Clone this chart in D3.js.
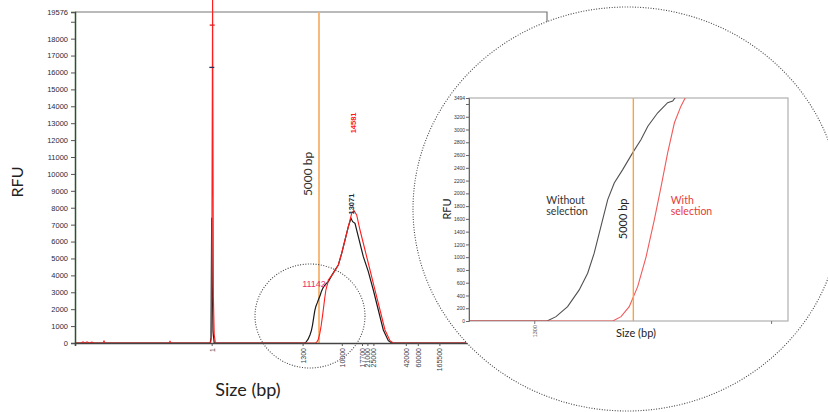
<!DOCTYPE html>
<html>
<head>
<meta charset="utf-8">
<script src="https://cdn.jsdelivr.net/npm/d3@7"></script>
<style>
  body { margin: 0; background: #fff; }
</style>
</head>
<body>
<div id="canvas"></div>
<script>
"use strict"

/* migration time (arbitrary units) of the ladder peaks and their sizes */
let ladderTimes = [34.17, 56.9, 66.7, 71.75, 73.1, 74.6, 82.7, 85.7, 91.1];
let ladderSizes = ["1", "1300", "10000", "17700", "21000", "25000", "42000", "60000", "165500"];

/* y ticks of the main trace and of the inset */
let mainYTicks = [0, 1000, 2000, 3000, 4000, 5000, 6000, 7000, 8000, 9000, 10000,
    11000, 12000, 13000, 14000, 15000, 16000, 17000, 18000, 19000, 19576];
let insetYTicks = [0, 200, 400, 600, 800, 1000, 1200, 1400, 1600, 1800, 2000,
    2200, 2400, 2600, 2800, 3000, 3200, 3400, 3494];

/* without selection, [time, RFU] */
let withoutSelection = [
    [0, 0], [33.8, 0], [34.0, 300], [34.17, 7400], [34.32, 3400], [34.5, 700], [34.8, 0],
    [57.43, 0], [57.8, 68], [58.28, 225], [58.76, 487], [59.11, 749], [59.38, 1063],
    [59.66, 1481], [59.94, 1901], [60.21, 2163], [60.56, 2372], [60.97, 2634], [61.32, 2843],
    [61.6, 3052], [62.01, 3263], [62.42, 3420], [62.63, 3445], [62.73, 3498], [63.33, 3627],
    [64.2, 4000], [65.0, 4317], [65.83, 4613], [66.67, 5303], [67.5, 6091], [68.33, 6880],
    [69.0, 7373], [69.42, 7176], [70.0, 7077], [70.83, 6289], [72.08, 5106], [73.33, 4219],
    [74.58, 3134], [75.83, 1952], [77.08, 769], [78.33, 138], [79.17, 0], [118, 0]
];

/* with selection, [time, RFU] */
let withSelection = [
    [0, 0], [1.5, 0], [2, 60], [2.5, 0], [3, 70], [3.5, 0], [4.2, 50], [4.8, 0],
    [7, 0], [7.25, 120], [7.5, 0], [23.5, 0], [23.75, 100], [24, 0],
    [33.9, 0], [34.15, 400], [34.4, 21000], [34.6, 2700], [34.8, 500], [35.1, 0],
    [60.15, 0], [60.49, 68], [60.83, 225], [61.18, 539], [61.53, 1010], [61.87, 1587],
    [62.15, 2110], [62.42, 2634], [62.7, 3106], [62.97, 3366], [63.15, 3498], [63.33, 3726],
    [64.58, 4120], [65.83, 4613], [66.67, 5303], [67.92, 6485], [69.17, 7669], [69.75, 7826],
    [70.42, 7570], [71.25, 6683], [72.5, 5500], [73.75, 4317], [75.0, 3134], [76.25, 1952],
    [77.5, 769], [78.75, 138], [79.58, 0], [118, 0]
];

/* the 5000 bp cut-off */
let cutoffTime = 61.0;

/* peak calls: label, time, RFU where the label sits, colour */
let peakCalls = [
    { label: "13071", t: 69.0, rfu: 7600, color: "#1a2a40", rotate: true },
    { label: "14581", t: 69.6, rfu: 12400, color: "#ff1a1a", rotate: true },
    { label: "11142", t: 59.75, rfu: 3300, color: "#e8336a", rotate: false }
];

/* marker ticks on the lower marker peak */
let markerTicks = [
    { t: 34.3, rfu: 18800, color: "#e02020" },
    { t: 34.2, rfu: 16300, color: "#203060" }
];

let drawing = d3.select("#canvas")
    .append("svg")
    .attr("width", 828)
    .attr("height", 412)
    .attr("font-family", "Liberation Sans, Arial, sans-serif");

let defs = drawing.append("defs");
defs.append("clipPath").attr("id", "mainClip")
    .append("rect").attr("x", 75).attr("y", 0).attr("width", 472).attr("height", 344);
defs.append("clipPath").attr("id", "insetClip")
    .append("rect").attr("x", 469).attr("y", 98).attr("width", 319).attr("height", 223);

/* Main trace */
let xMain = d3.scaleLinear().domain([0, 118]).range([75, 547]);
let yMain = d3.scaleLinear().domain([0, 19576]).range([343, 12]);

let mainLine = d3.line()
    .x(d => xMain(d[0]))
    .y(d => yMain(d[1]));

/* frame */
let mainFrame = drawing.append("path")
    .attr("d", "M75,12H547V343")
    .attr("fill", "none")
    .attr("stroke", "#777")
    .attr("stroke-width", 1.2);

/* 5000 bp line */
let mainCutoff = drawing.append("line")
    .attr("x1", xMain(cutoffTime)).attr("x2", xMain(cutoffTime))
    .attr("y1", yMain(19576)).attr("y2", yMain(0))
    .attr("stroke", "#f7b36e")
    .attr("stroke-width", 1.8);

let mainCutoffLabel = drawing.append("text")
    .attr("transform", `translate(${xMain(cutoffTime) - 7.5},${yMain(10000)}) rotate(-90)`)
    .attr("text-anchor", "middle")
    .attr("font-size", 12)
    .attr("font-family", "Lato, sans-serif")
    .attr("fill", "#333")
    .text("5000 bp");

let mainTraces = drawing.append("g").attr("clip-path", "url(#mainClip)");

mainTraces.append("path")
    .datum(withoutSelection)
    .attr("d", mainLine)
    .attr("fill", "none")
    .attr("stroke", "#1a1a1a")
    .attr("stroke-width", 1.2);

mainTraces.append("path")
    .datum(withSelection)
    .attr("d", mainLine)
    .attr("fill", "none")
    .attr("stroke", "#ff1f1f")
    .attr("stroke-width", 1.1);

mainTraces.selectAll(".marker")
    .data(markerTicks)
    .enter().append("line")
    .attr("x1", d => xMain(d.t) - 2.5).attr("x2", d => xMain(d.t) + 2.5)
    .attr("y1", d => yMain(d.rfu)).attr("y2", d => yMain(d.rfu))
    .attr("stroke", d => d.color)
    .attr("stroke-width", 1.3);

/* peak calls */
drawing.selectAll(".peak")
    .data(peakCalls)
    .enter().append("text")
    .attr("transform", d => d.rotate
        ? `translate(${xMain(d.t) + 2.5},${yMain(d.rfu)}) rotate(-90)`
        : `translate(${xMain(d.t)},${yMain(d.rfu)})`)
    .attr("text-anchor", d => d.rotate ? "start" : "middle")
    .attr("font-size", d => d.rotate ? 7.5 : 9)
    .attr("font-weight", d => d.rotate ? "bold" : "normal")
    .attr("fill", d => d.color)
    .text(d => d.label);

/* y axis */
let yAxisMain = drawing.append("g")
    .attr("transform", "translate(75,0)")
    .call(d3.axisLeft(yMain)
        .tickValues(mainYTicks)
        .tickSize(4)
        .tickFormat(d => d === 19000 ? "" : d));
yAxisMain.select(".domain").attr("stroke", "#2f4f2f").attr("stroke-width", 1.5);
yAxisMain.selectAll(".tick line").attr("stroke", "#555");
yAxisMain.selectAll("text")
    .attr("font-size", 7.5)
    .attr("fill", "#2a2a3a")
    .attr("font-family", "Liberation Sans, sans-serif");

/* x axis */
let xAxisMain = drawing.append("g")
    .attr("transform", "translate(0,343)")
    .call(d3.axisBottom(xMain)
        .tickValues(ladderTimes)
        .tickSize(3)
        .tickFormat((d, i) => ladderSizes[i]));
xAxisMain.select(".domain").attr("stroke", "#444").attr("stroke-width", 1.6);
xAxisMain.selectAll(".tick line").attr("stroke", "#555");
xAxisMain.selectAll("text")
    .attr("transform", "rotate(-90)")
    .attr("text-anchor", "end")
    .attr("x", -5)
    .attr("y", 0)
    .attr("dy", "0.35em")
    .attr("font-size", 7)
    .attr("fill", "#3a3a4a")
    .attr("font-family", "Liberation Sans, sans-serif");

/* axis titles */
let mainYTitle = drawing.append("text")
    .attr("transform", "translate(23,182) rotate(-90)")
    .attr("text-anchor", "middle")
    .attr("font-size", 16)
    .attr("font-family", "Lato, sans-serif")
    .attr("fill", "#222")
    .text("RFU");

let mainXTitle = drawing.append("text")
    .attr("x", 248)
    .attr("y", 396)
    .attr("text-anchor", "middle")
    .attr("font-size", 18)
    .attr("font-family", "Lato, sans-serif")
    .attr("fill", "#222")
    .text("Size (bp)");

/* small zoom circle */
let smallCircle = drawing.append("ellipse")
    .attr("cx", 310).attr("cy", 316)
    .attr("rx", 55).attr("ry", 52)
    .attr("fill", "none")
    .attr("stroke", "#444")
    .attr("stroke-width", 1.1)
    .attr("stroke-dasharray", "1,1.6");

/* big zoom circle */
let bigCircle = drawing.append("ellipse")
    .attr("cx", 627).attr("cy", 209)
    .attr("rx", 214).attr("ry", 202)
    .attr("fill", "#fff")
    .attr("stroke", "#444")
    .attr("stroke-width", 1.1)
    .attr("stroke-dasharray", "1,1.6");

/* Inset */
let xInset = d3.scaleLinear().domain([54.2, 67.4]).range([469, 788]);
let yInset = d3.scaleLinear().domain([0, 3494]).range([321, 98]);

let insetLine = d3.line()
    .x(d => xInset(d[0]))
    .y(d => yInset(d[1]));

let insetFrame = drawing.append("rect")
    .attr("x", 469).attr("y", 98)
    .attr("width", 319).attr("height", 223)
    .attr("fill", "#fff")
    .attr("stroke", "#b0b0b0")
    .attr("stroke-width", 1.2);

let insetTraces = drawing.append("g").attr("clip-path", "url(#insetClip)");

insetTraces.append("path")
    .datum(withoutSelection)
    .attr("d", insetLine)
    .attr("fill", "none")
    .attr("stroke", "#505050")
    .attr("stroke-width", 1.1);

insetTraces.append("path")
    .datum(withSelection)
    .attr("d", insetLine)
    .attr("fill", "none")
    .attr("stroke", "#f25a5a")
    .attr("stroke-width", 1.1);

let insetCutoff = drawing.append("line")
    .attr("x1", xInset(cutoffTime)).attr("x2", xInset(cutoffTime))
    .attr("y1", yInset(3494)).attr("y2", yInset(0))
    .attr("stroke", "#f8a43c")
    .attr("stroke-width", 1.4);

let yAxisInset = drawing.append("g")
    .attr("transform", "translate(469,0)")
    .call(d3.axisLeft(yInset)
        .tickValues(insetYTicks)
        .tickSize(3)
        .tickFormat(d => d === 3400 ? "" : d));
yAxisInset.select(".domain").attr("stroke", "#666");
yAxisInset.selectAll(".tick line").attr("stroke", "#666");
yAxisInset.selectAll("text")
    .attr("font-size", 5)
    .attr("x", -4)
    .attr("fill", "#333")
    .attr("font-family", "Liberation Sans, sans-serif");

let xAxisInset = drawing.append("g")
    .attr("transform", "translate(0,321)")
    .call(d3.axisBottom(xInset)
        .tickValues([ladderTimes[1], ladderTimes[2]])
        .tickSize(3)
        .tickFormat((d, i) => i === 0 ? ladderSizes[1] : ""));
xAxisInset.select(".domain").remove();
xAxisInset.selectAll(".tick line").attr("stroke", "#777");
xAxisInset.selectAll("text")
    .attr("transform", "rotate(-90)")
    .attr("text-anchor", "end")
    .attr("x", -4)
    .attr("y", 0)
    .attr("dy", "0.35em")
    .attr("font-size", 5.5)
    .attr("fill", "#555")
    .attr("font-family", "Liberation Sans, sans-serif");

let insetYTitle = drawing.append("text")
    .attr("transform", "translate(451,209) rotate(-90)")
    .attr("text-anchor", "middle")
    .attr("font-size", 11)
    .attr("font-family", "Lato, sans-serif")
    .attr("fill", "#222")
    .text("RFU");

let insetXTitle = drawing.append("text")
    .attr("x", 636)
    .attr("y", 337)
    .attr("text-anchor", "middle")
    .attr("font-size", 11)
    .attr("font-family", "Lato, sans-serif")
    .attr("fill", "#222")
    .text("Size (bp)");

let insetCutoffLabel = drawing.append("text")
    .attr("transform", `translate(${xInset(cutoffTime) - 6},${yInset(1600)}) rotate(-90)`)
    .attr("text-anchor", "middle")
    .attr("font-size", 11)
    .attr("font-family", "Lato, sans-serif")
    .attr("fill", "#222")
    .text("5000 bp");

/* series labels */
let withoutLabel = drawing.append("text")
    .attr("x", xInset(57.4))
    .attr("y", yInset(1830))
    .attr("font-size", 10.5)
    .attr("font-family", "Lato, sans-serif")
    .attr("fill", "#333");
withoutLabel.append("tspan").attr("x", xInset(57.4)).text("Without");
withoutLabel.append("tspan").attr("x", xInset(57.4)).attr("dy", 11).text("selection");

let withLabel = drawing.append("text")
    .attr("x", xInset(62.55))
    .attr("y", yInset(1830))
    .attr("font-size", 10.5)
    .attr("font-family", "Lato, sans-serif")
    .attr("fill", "#e83a3a");
withLabel.append("tspan").attr("x", xInset(62.55)).text("With");
withLabel.append("tspan").attr("x", xInset(62.55)).attr("dy", 11).text("selection");
</script>
</body>
</html>
